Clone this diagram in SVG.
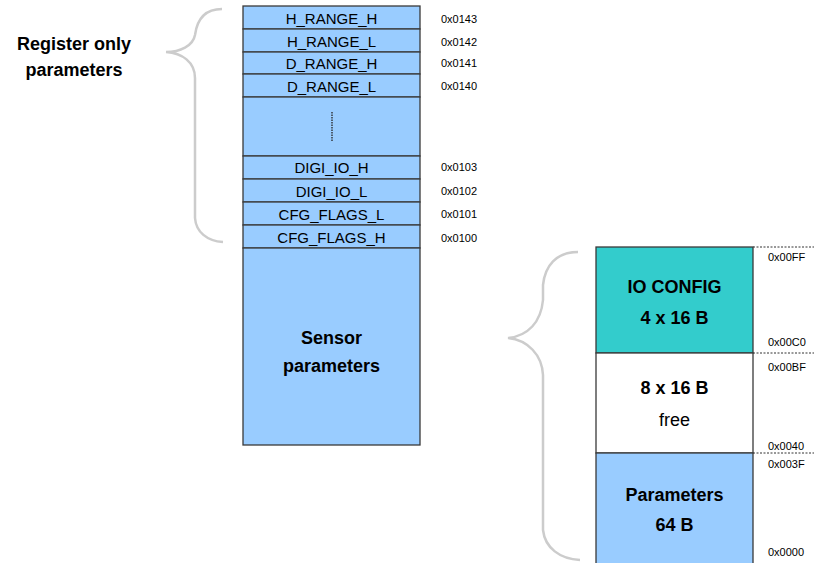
<svg xmlns="http://www.w3.org/2000/svg" width="814" height="563" viewBox="0 0 814 563">
<style>
.cell{fill:#99ccff;stroke:#3a3a3a;stroke-width:1.3}
.lbl{font-family:"Liberation Sans",Arial,sans-serif;font-size:15px;fill:#000;text-anchor:middle;dominant-baseline:central}
.addr{font-family:"Liberation Sans",Arial,sans-serif;font-size:11px;fill:#000;dominant-baseline:central}
.big{font-family:"Liberation Sans",Arial,sans-serif;font-size:18px;font-weight:bold;fill:#000;text-anchor:middle;dominant-baseline:central}
.reg{font-family:"Liberation Sans",Arial,sans-serif;font-size:18px;fill:#000;text-anchor:middle;dominant-baseline:central}
.brace{fill:none;stroke:#cccccc;stroke-width:2.5}
.dash{stroke:#333;stroke-width:1;stroke-dasharray:2,1.5}
</style>
<rect width="814" height="563" fill="#fff"/>
<g id="label-register">
<text class="big" x="74" y="44">Register only</text>
<text class="big" x="74" y="70">parameters</text>
</g>
<g id="connectors">
<path class="brace" d="M222,9 C205,9 197,20 195,35 C193,46 180,52 166,52 C182,53 195,62 195,78 L195,218 C196,232 207,241 223,242"/>
<path class="brace" d="M578,252 C556,252 545,266 543,285 L543,300 C541,322 528,336 508,338 C528,340 542,355 543,375 L543,530 C545,548 560,559 580,560"/>
<line class="dash" x1="753" y1="247" x2="814" y2="247"/>
<line class="dash" x1="753" y1="353" x2="814" y2="353"/>
<line class="dash" x1="753" y1="453" x2="814" y2="453"/>
</g>
<g id="row-h-range-h"><rect class="cell" x="243" y="6" width="177" height="23"/><text class="lbl" x="331.5" y="18">H_RANGE_H</text><text class="addr" x="441" y="18.5">0x0143</text></g>
<g id="row-h-range-l"><rect class="cell" x="243" y="29" width="177" height="23"/><text class="lbl" x="331.5" y="41">H_RANGE_L</text><text class="addr" x="441" y="42">0x0142</text></g>
<g id="row-d-range-h"><rect class="cell" x="243" y="52" width="177" height="22"/><text class="lbl" x="331.5" y="63">D_RANGE_H</text><text class="addr" x="441" y="63">0x0141</text></g>
<g id="row-d-range-l"><rect class="cell" x="243" y="74" width="177" height="23"/><text class="lbl" x="331.5" y="86">D_RANGE_L</text><text class="addr" x="441" y="86">0x0140</text></g>
<g id="row-gap"><rect class="cell" x="243" y="97" width="177" height="59"/><line x1="332" y1="112" x2="332" y2="141" stroke="#222" stroke-width="1.3" stroke-dasharray="1.5,1"/></g>
<g id="row-digi-io-h"><rect class="cell" x="243" y="156" width="177" height="23"/><text class="lbl" x="331.5" y="167">DIGI_IO_H</text><text class="addr" x="441" y="167">0x0103</text></g>
<g id="row-digi-io-l"><rect class="cell" x="243" y="179" width="177" height="23"/><text class="lbl" x="331.5" y="191">DIGI_IO_L</text><text class="addr" x="441" y="191">0x0102</text></g>
<g id="row-cfg-flags-l"><rect class="cell" x="243" y="202" width="177" height="23"/><text class="lbl" x="331.5" y="214">CFG_FLAGS_L</text><text class="addr" x="441" y="214">0x0101</text></g>
<g id="row-cfg-flags-h"><rect class="cell" x="243" y="225" width="177" height="23"/><text class="lbl" x="331.5" y="237">CFG_FLAGS_H</text><text class="addr" x="441" y="237.5">0x0100</text></g>
<g id="sensor-parameters"><rect class="cell" x="243" y="248" width="177" height="197"/><text class="big" x="331.5" y="338">Sensor</text><text class="big" x="331.5" y="366">parameters</text></g>
<g id="io-config"><rect x="596" y="247" width="157" height="106" fill="#33cccc" stroke="#3a3a3a" stroke-width="1.3"/><text class="big" x="674.5" y="287">IO CONFIG</text><text class="big" x="674.5" y="318">4 x 16 B</text><text class="addr" x="768" y="257">0x00FF</text><text class="addr" x="768" y="342">0x00C0</text></g>
<g id="free"><rect x="596" y="353" width="157" height="100" fill="#ffffff" stroke="#3a3a3a" stroke-width="1.3"/><text class="big" x="674.5" y="388">8 x 16 B</text><text class="reg" x="674.5" y="420">free</text><text class="addr" x="768" y="367">0x00BF</text><text class="addr" x="768" y="446">0x0040</text></g>
<g id="parameters"><rect x="596" y="453" width="157" height="120" fill="#99ccff" stroke="#3a3a3a" stroke-width="1.3"/><text class="big" x="674.5" y="495">Parameters</text><text class="big" x="674.5" y="525">64 B</text><text class="addr" x="768" y="464">0x003F</text><text class="addr" x="768" y="552">0x0000</text></g>
</svg>
